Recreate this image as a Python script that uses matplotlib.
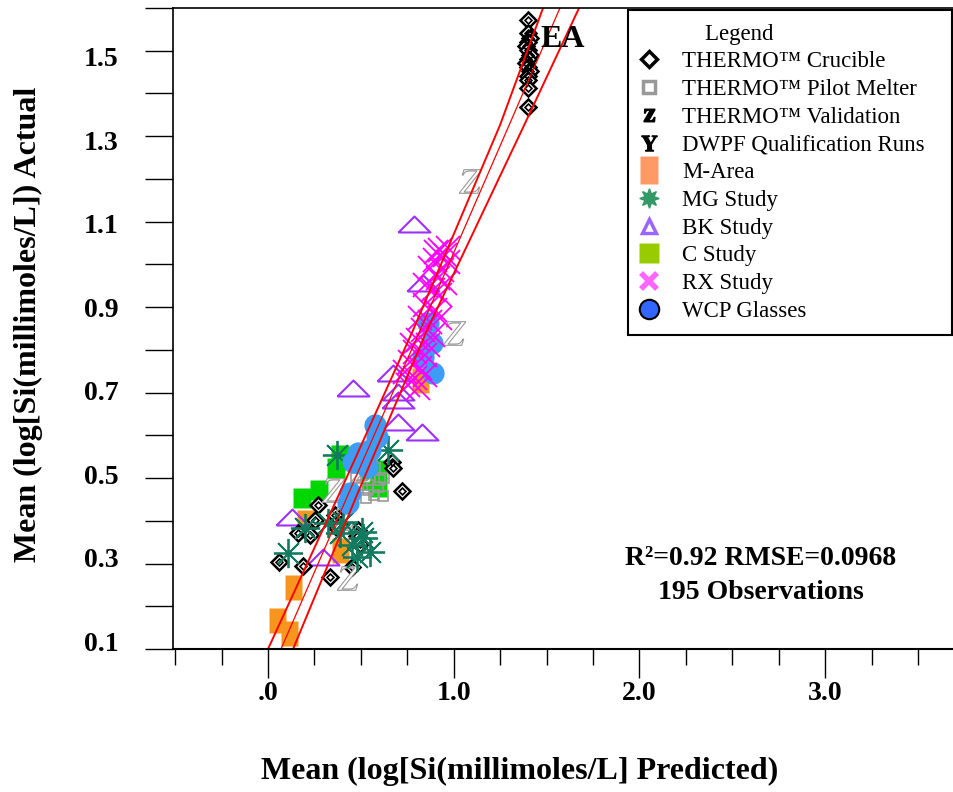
import numpy as np
import matplotlib
matplotlib.use("Agg")
import matplotlib.pyplot as plt
from matplotlib.lines import Line2D

plt.rcParams['font.family'] = ['Liberation Serif', 'DejaVu Serif']
plt.rcParams['mathtext.fontset'] = 'stix'

# THERMO Crucible (EA cluster + low cluster)
cru_x = [1.40, 1.40, 1.41, 1.40, 1.39, 1.40, 1.41, 1.40, 1.39, 1.40, 1.41, 1.40, 1.40, 1.40, 1.40,
         0.269, 0.361, 0.253, 0.162, 0.226, 0.372, 0.059, 0.188, 0.334, 0.388,
         0.668, 0.673, 0.722, 0.485, 0.479, 0.452, 0.495]
cru_y = [1.588, 1.557, 1.545, 1.535, 1.525, 1.516, 1.505, 1.495, 1.485, 1.475, 1.465, 1.455, 1.444, 1.425, 1.380,
         0.426, 0.402, 0.390, 0.359, 0.354, 0.371, 0.290, 0.281, 0.254, 0.378,
         0.529, 0.515, 0.460, 0.366, 0.352, 0.278, 0.333]

# THERMO Pilot Melter
pm_x = [0.495, 0.522, 0.549, 0.576, 0.603, 0.506, 0.539, 0.571, 0.592, 0.625, 0.474, 0.560, 0.619, 0.528]
pm_y = [0.522, 0.510, 0.498, 0.515, 0.486, 0.474, 0.462, 0.450, 0.469, 0.491, 0.491, 0.534, 0.448, 0.443]

# THERMO Validation
val_x = [1.088, 1.002, 0.431, 0.350, 0.409, 0.506]
val_y = [1.202, 0.838, 0.251, 0.462, 0.395, 0.510]

# DWPF Qualification Runs (none visible in plot area)
dwpf_x = []
dwpf_y = []

# M-Area
ma_x = [0.199, 0.388, 0.135, 0.048, 0.113, 0.818]
ma_y = [0.386, 0.318, 0.230, 0.151, 0.120, 0.726]

# MG Study
mg_x = [0.108, 0.372, 0.323, 0.199, 0.388, 0.646, 0.506, 0.549, 0.479, 0.404, 0.512, 0.452]
mg_y = [0.311, 0.546, 0.383, 0.371, 0.359, 0.558, 0.362, 0.314, 0.302, 0.386, 0.347, 0.330]

# BK Study
bk_x = [0.786, 0.458, 0.673, 0.700, 0.700, 0.700, 0.829, 0.129, 0.296, 0.835]
bk_y = [1.099, 0.706, 0.742, 0.697, 0.678, 0.625, 0.601, 0.397, 0.302, 0.958]

# C Study
cs_x = [0.183, 0.275, 0.366, 0.388, 0.592, 0.592, 0.549]
cs_y = [0.443, 0.462, 0.515, 0.546, 0.510, 0.469, 0.486]

# RX Study
rx_x = [0.926, 0.953, 0.899, 0.969, 0.872, 0.937, 0.915, 0.953, 0.845, 0.889, 0.926, 0.969, 0.905,
        0.845, 0.899, 0.819, 0.872, 0.926, 0.835, 0.889, 0.808, 0.862,
        0.792, 0.845, 0.765, 0.819, 0.738, 0.792, 0.845, 0.754, 0.808, 0.775]
rx_y = [1.037, 1.025, 1.013, 1.008, 0.994, 0.989, 0.970, 0.958, 0.953, 0.941, 0.929, 1.042, 1.032,
        0.905, 0.893, 0.874, 0.865, 0.874, 0.845, 0.833, 0.821, 0.809,
        0.793, 0.786, 0.769, 0.754, 0.745, 0.730, 0.738, 0.714, 0.706, 0.809]

# WCP Glasses
wcp_x = [0.576, 0.587, 0.485, 0.458, 0.533, 0.442, 0.431, 0.862, 0.883, 0.889, 0.835, 0.549]
wcp_y = [0.618, 0.589, 0.551, 0.530, 0.517, 0.455, 0.431, 0.862, 0.814, 0.742, 0.781, 0.558]

# fit line and confidence bands
fit_y = [0.081, 0.462, 0.845, 1.336, 1.617]
fit_x = [0.070, 0.442, 0.819, 1.298, 1.572]
upper_x = [0.000, 0.393, 0.781, 1.249, 1.481]
lower_x = [0.135, 0.490, 0.856, 1.379, 1.675]

legend_labels = ["THERMO\u2122 Crucible", "THERMO\u2122 Pilot Melter", "THERMO\u2122 Validation",
                 "DWPF Qualification Runs", "M-Area", "MG Study", "BK Study", "C Study",
                 "RX Study", "WCP Glasses"]

rect = [(-0.68, -1), (0.68, -1), (0.68, 1), (-0.68, 1), (-0.68, -1)]
sq = [(-0.85, -1), (0.85, -1), (0.85, 1), (-0.85, 1), (-0.85, -1)]
tri = [(-1, -0.5), (1, -0.5), (0, 0.5), (-1, -0.5)]

fig = plt.figure(figsize=(9.54, 7.92), dpi=100)
ax = fig.add_axes([0.1813, 0.1806, 0.8187, 0.8093])
ax.set_xlim(-0.512, 3.694)
ax.set_ylim(0.081, 1.617)

ax.plot(ma_x, ma_y, ls='none', marker=rect, ms=18, mfc='#F7961E', mec='none')
ax.plot(cs_x, cs_y, ls='none', marker=sq, ms=15, mfc='#00D600', mec='none')
ax.plot(bk_x, bk_y, ls='none', marker=tri, ms=23, mfc='none', mec='#9B30FF', mew=1.5)
ax.plot(pm_x, pm_y, ls='none', marker='s', ms=6.5, mfc='none', mec='#999999', mew=1.2)
ax.plot(cru_x, cru_y, ls='none', marker='D', ms=8.5, mfc='white', mec='black', mew=1.8)
ax.plot(cru_x, cru_y, ls='none', marker='D', ms=3.5, mfc='none', mec='black', mew=1.2)
ax.plot(val_x, val_y, ls='none', marker='$Z$', ms=17, mfc='white', mec='#999999', mew=0.8)
ax.plot(dwpf_x, dwpf_y, ls='none', marker='$Y$', ms=12, color='black')
ax.plot(mg_x, mg_y, ls='none', marker=(8, 2, 0), ms=21, mec='#127A5E', mew=1.3)
ax.plot(wcp_x, wcp_y, ls='none', marker='o', ms=16, mfc='#3D9CF5', mec='none')
ax.plot(rx_x, rx_y, ls='none', marker='x', ms=17, mec='#FF00FF', mew=1.3)

ax.plot(upper_x, fit_y, color='red', lw=1.4)
ax.plot(fit_x, fit_y, color='red', lw=0.9)
ax.plot(lower_x, fit_y, color='red', lw=1.4)

# axes / ticks
ax.spines['right'].set_visible(False)
ax.spines['top'].set_linewidth(1.2)
ax.spines['left'].set_linewidth(1.2)
ax.spines['bottom'].set_linewidth(1.5)

ax.set_yticks(np.linspace(0.081, 1.617, 16))
ax.set_yticklabels([])
ax.set_yticks([0.1, 0.3, 0.5, 0.7, 0.9, 1.1, 1.3, 1.5], minor=True)
ax.set_yticklabels(["0.1", "0.3", "0.5", "0.7", "0.9", "1.1", "1.3", "1.5"], minor=True,
                   fontsize=20, fontweight='bold')
ax.tick_params(axis='y', which='major', direction='out', length=20, width=1)
ax.tick_params(axis='y', which='minor', length=0, pad=39)

ax.set_xticks([0, 1, 2, 3])
ax.set_xticklabels([".0", "1.0", "2.0", "3.0"], fontsize=20, fontweight='bold')
ax.set_xticks([-0.5, -0.25, 0.25, 0.5, 0.75, 1.25, 1.5, 1.75, 2.25, 2.5, 2.75, 3.25, 3.5], minor=True)
ax.tick_params(axis='x', which='major', direction='out', length=21, width=1, pad=2)
ax.tick_params(axis='x', which='minor', direction='out', length=11.5, width=1)

fig.text(0.545, 0.0265, "Mean (log[Si(millimoles/L] Predicted)", fontsize=23, fontweight='bold',
         ha='center', va='center')
fig.text(0.0294, 0.590, "Mean (log[Si(millimoles/L]) Actual", fontsize=23, fontweight='bold',
         ha='center', va='center', rotation=90)

fig.text(0.7977, 0.2942, "R\u00b2=0.92 RMSE=0.0968", fontsize=20, fontweight='bold', ha='center', va='center')
fig.text(0.7977, 0.2525, "195 Observations", fontsize=20, fontweight='bold', ha='center', va='center')
ax.text(1.465, 1.542, "EA", fontsize=23, fontweight='bold', ha='left', va='center')

# legend
handles = [
    Line2D([], [], ls='none'),
    Line2D([], [], ls='none', marker='D', ms=8, mfc='white', mec='black', mew=2.5),
    Line2D([], [], ls='none', marker='s', ms=8, mfc='white', mec='#999999', mew=2.5),
    Line2D([], [], ls='none', marker='$\\mathbf{z}$', ms=9, color='black'),
    Line2D([], [], ls='none', marker='$\\mathbf{Y}$', ms=11, color='black'),
    Line2D([], [], ls='none', marker=rect, ms=20, mfc='#FF9966', mec='none'),
    Line2D([], [], ls='none', marker=(8, 1, 0), ms=14, mfc='#339966', mec='#339966'),
    Line2D([], [], ls='none', marker='^', ms=10, mfc='white', mec='#9966FF', mew=2.5),
    Line2D([], [], ls='none', marker='s', ms=14, mfc='#99CC00', mec='none'),
    Line2D([], [], ls='none', marker='x', ms=12, mec='#FF66FF', mew=4),
    Line2D([], [], ls='none', marker='o', ms=14, mfc='#3366FF', mec='black', mew=1.5),
]
labels = ["    Legend"] + legend_labels
leg = ax.legend(handles, labels, loc='upper left', bbox_to_anchor=(628 / 954, 1 - 10 / 792, 324 / 954, 0.0),
                bbox_transform=fig.transFigure, mode='expand', fontsize=16.5, frameon=True,
                fancybox=False, framealpha=1, edgecolor='black', labelspacing=0.29,
                handlelength=0.6, handletextpad=1.15, borderpad=0.6, borderaxespad=0)
leg.get_frame().set_linewidth(1.5)

fig.savefig("out.png", dpi=100)
